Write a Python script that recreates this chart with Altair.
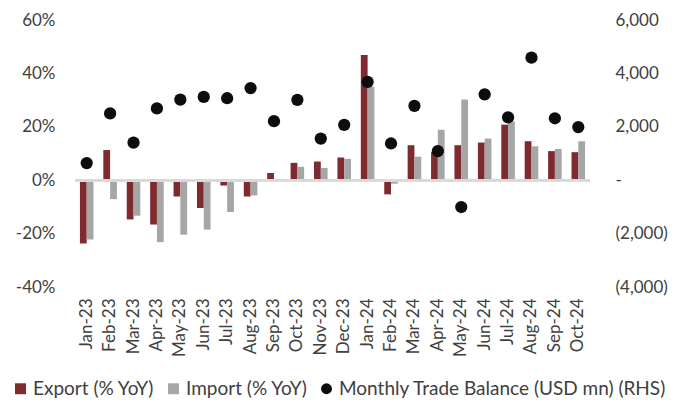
import altair as alt
import pandas as pd

months = ["Jan-23", "Feb-23", "Mar-23", "Apr-23", "May-23", "Jun-23", "Jul-23", "Aug-23",
          "Sep-23", "Oct-23", "Nov-23", "Dec-23", "Jan-24", "Feb-24", "Mar-24", "Apr-24",
          "May-24", "Jun-24", "Jul-24", "Aug-24", "Sep-24", "Oct-24"]
export_yoy = [-23.7, 11.3, -14.7, -16.6, -6.1, -10.4, -2.0, -6.1, 2.7, 6.5, 7.0, 8.5,
              46.9, -5.3, 13.1, 10.5, 13.1, 14.1, 20.8, 14.6, 10.9, 10.5]
import_yoy = [-22.2, -7.1, -13.3, -23.2, -20.4, -18.5, -11.9, -5.7, 0.3, 5.0, 4.6, 8.0,
              35.0, -1.3, 8.8, 18.9, 30.2, 15.6, 22.0, 12.7, 11.7, 14.6]
balance = [640, 2500, 1410, 2690, 3020, 3120, 3070, 3450, 2210, 3010, 1560, 2075,
           3680, 1375, 2785, 1090, -1005, 3215, 2355, 4590, 2320, 1990]

S_EXP = "Export (% YoY)"
S_IMP = "Import (% YoY)"
S_BAL = "Monthly Trade Balance (USD mn) (RHS)"
series = [S_EXP, S_IMP, S_BAL]
colors = ["#7f2a2f", "#a6a6a6", "#0d0d0d"]
shapes = ["square", "square", "circle"]

bars_df = pd.DataFrame(
    {"month": months * 2,
     "series": [S_EXP] * len(months) + [S_IMP] * len(months),
     "value": export_yoy + import_yoy}
)
bal_df = pd.DataFrame({"month": months, "series": [S_BAL] * len(months), "value": balance})

FONT = "Lato"
TXT = "#404040"

legend = alt.Legend(
    title=None, orient="none", legendX=-64, legendY=359, direction="horizontal",
    labelFont=FONT, labelFontSize=19, labelColor=TXT, labelLimit=700,
    symbolSize=120, symbolStrokeWidth=0, columnPadding=9, labelOffset=3,
)

color = alt.Color("series:N", scale=alt.Scale(domain=series, range=colors), legend=legend)

x_enc = alt.X(
    "month:N", sort=months, title=None,
    scale=alt.Scale(paddingInner=0.42, paddingOuter=0.21),
    axis=alt.Axis(labelAngle=-90, labelFont=FONT, labelFontSize=17, labelColor=TXT,
                  labelPadding=11, domain=False, ticks=False, labelOverlap=False),
)

bars = alt.Chart(bars_df).mark_bar().encode(
    x=x_enc,
    xOffset=alt.XOffset("series:N", sort=[S_EXP, S_IMP], scale=alt.Scale(domain=[S_EXP, S_IMP])),
    y=alt.Y("value:Q", title=None,
            scale=alt.Scale(domain=[-40, 60], nice=False, zero=False),
            axis=alt.Axis(values=[-40, -20, 0, 20, 40, 60], labelExpr="datum.value + '%'",
                          grid=False, domain=False, ticks=False, labelFont=FONT,
                          labelFontSize=17, labelColor=TXT, labelPadding=20,
                          minExtent=62, maxExtent=62)),
    color=color,
)

zero = alt.Chart(bars_df).mark_rule(color="#d9d9d9", strokeWidth=2).encode(
    y=alt.datum(0)
)

left = alt.layer(bars, zero)

points = alt.Chart(bal_df).mark_point(filled=True, size=150, opacity=1).encode(
    x=alt.X("month:N", sort=months),
    y=alt.Y("value:Q", title=None,
            scale=alt.Scale(domain=[-4000, 6000], nice=False, zero=False),
            axis=alt.Axis(orient="right", values=[-4000, -2000, 0, 2000, 4000, 6000],
                          labelExpr="datum.value == 0 ? '-' : (datum.value < 0 ? '(' + format(-datum.value, ',') + ')' : format(datum.value, ','))",
                          grid=False, domain=False, ticks=False, labelFont=FONT,
                          labelFontSize=17, labelColor=TXT, labelPadding=25)),
    color=color,
    shape=alt.Shape("series:N", scale=alt.Scale(domain=series, range=shapes), legend=legend),
)

chart = alt.layer(left, points).resolve_scale(y="independent").properties(
    width=515, height=267,
    autosize=alt.AutoSizeParams(type="none"),
    padding={"left": 67, "top": 12, "right": 94, "bottom": 111},
).configure_view(stroke=None)

chart.save("out.html", embed_options={"renderer": "svg", "actions": False})
